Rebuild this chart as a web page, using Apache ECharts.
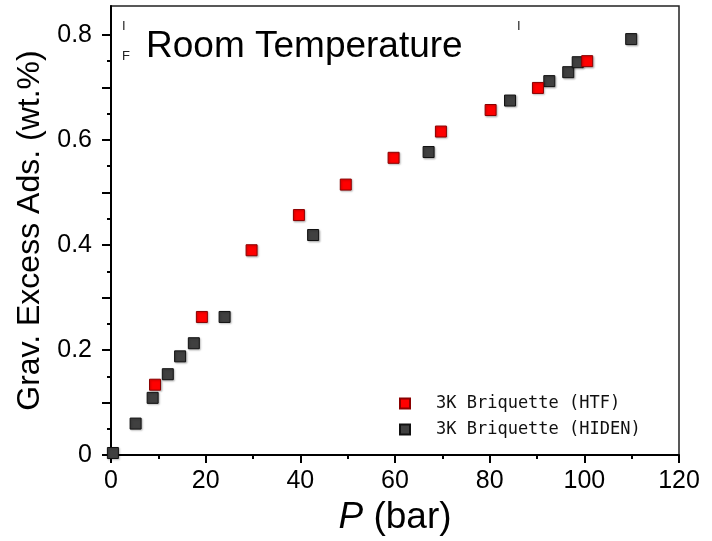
<!DOCTYPE html>
<html>
<head>
<meta charset="utf-8">
<script src="https://cdn.jsdelivr.net/npm/echarts@6/dist/echarts.min.js"></script>
<style>
  html, body { margin: 0; padding: 0; background: #fff; }
  #chart { width: 712px; height: 541px; }
</style>
</head>
<body>
<div id="chart"></div>
<script>
// 3K Briquette (HTF)
var htfP = [9.3, 19.2, 29.7, 39.7, 49.6, 59.7, 69.7, 80.2, 90.2, 100.6];
var htfAds = [0.134, 0.263, 0.390, 0.457, 0.515, 0.566, 0.616, 0.657, 0.699, 0.750];
// 3K Briquette (HIDEN)
var hidenP = [0.4, 5.2, 8.8, 12.0, 14.6, 17.5, 24.0, 42.7, 67.1, 84.3, 92.6, 96.6, 98.6, 109.9];
var hidenAds = [0.004, 0.060, 0.109, 0.154, 0.188, 0.213, 0.263, 0.419, 0.577, 0.675, 0.712, 0.729, 0.748, 0.792];

var seriesNames = ['3K Briquette (HTF)', '3K Briquette (HIDEN)'];
var yLabelValues = [0, 0.2, 0.4, 0.6, 0.8];
var yMajorTicks = [0, 0.1, 0.2, 0.3, 0.4, 0.5, 0.6, 0.7, 0.8];
var yMinorTicks = [0.05, 0.15, 0.25, 0.35, 0.45, 0.55, 0.65, 0.75];

function pairs(xs, ys) {
  return xs.map(function (x, i) { return [x, ys[i]]; });
}

var font = "'Liberation Sans', Arial, sans-serif";
var chart = echarts.init(document.getElementById('chart'));

chart.setOption({
  animation: false,
  title: {
    text: 'Room Temperature',
    left: 141,
    top: 23,
    textStyle: { fontFamily: font, fontSize: 37, fontWeight: 'normal', color: '#000' }
  },
  legend: {
    orient: 'vertical',
    left: 394,
    top: 390,
    itemWidth: 10,
    itemHeight: 10,
    itemGap: 9,
    icon: 'rect',
    data: seriesNames,
    textStyle: {
      fontFamily: "'DejaVu Sans Mono', monospace",
      fontSize: 17,
      color: '#111',
      padding: [0, 0, 0, 21]
    }
  },
  grid: {
    left: 111,
    right: 33,
    top: 6,
    bottom: 85,
    show: true,
    borderColor: '#222',
    borderWidth: 1.5
  },
  xAxis: {
    type: 'value',
    min: 0,
    max: 120,
    interval: 20,
    name: '{i|P} (bar)',
    nameLocation: 'middle',
    nameGap: 42,
    nameTextStyle: {
      fontFamily: font,
      fontSize: 37,
      color: '#000',
      rich: { i: { fontFamily: font, fontSize: 37, fontStyle: 'italic', color: '#000' } }
    },
    axisLine: { lineStyle: { color: '#000', width: 2 } },
    axisTick: { length: 8, lineStyle: { color: '#000', width: 2 } },
    minorTick: { show: true, splitNumber: 2, length: 4, lineStyle: { color: '#000', width: 2 } },
    axisLabel: { fontFamily: font, fontSize: 25, color: '#000', margin: 14 },
    splitLine: { show: false }
  },
  yAxis: [{
    type: 'value',
    position: 'left',
    min: 0,
    max: 0.855,
    name: 'Grav. Excess Ads. (wt.%)',
    nameLocation: 'middle',
    nameGap: 63,
    nameTextStyle: { fontFamily: font, fontSize: 32, color: '#000' },
    axisLine: { lineStyle: { color: '#000', width: 2 } },
    axisTick: { customValues: yMajorTicks, length: 9, lineStyle: { color: '#000', width: 2 } },
    axisLabel: { customValues: yLabelValues, fontFamily: font, fontSize: 25, color: '#000', margin: 19 },
    splitLine: { show: false }
  }, {
    type: 'value',
    position: 'left',
    min: 0,
    max: 0.855,
    axisLine: { show: false },
    axisTick: { customValues: yMinorTicks, length: 4, lineStyle: { color: '#000', width: 2 } },
    axisLabel: { show: false },
    splitLine: { show: false }
  }],
  graphic: [
    { type: 'text', left: 122, top: 20, style: { text: 'I', fontFamily: font, fontSize: 13, fill: '#222' } },
    { type: 'text', left: 122, top: 50, style: { text: 'F', fontFamily: font, fontSize: 13, fill: '#222' } },
    { type: 'text', left: 517, top: 20, style: { text: 'I', fontFamily: font, fontSize: 13, fill: '#222' } }
  ],
  series: [{
    name: seriesNames[0],
    type: 'scatter',
    symbol: 'rect',
    symbolSize: 11,
    z: 3,
    data: pairs(htfP, htfAds),
    itemStyle: {
      color: '#ff0000',
      borderColor: '#8a0000',
      borderWidth: 1,
      opacity: 1,
      shadowColor: 'rgba(0,0,0,0.25)',
      shadowBlur: 2,
      shadowOffsetX: 1,
      shadowOffsetY: 1
    }
  }, {
    name: seriesNames[1],
    type: 'scatter',
    symbol: 'rect',
    symbolSize: 11,
    z: 2,
    data: pairs(hidenP, hidenAds),
    itemStyle: {
      color: '#404040',
      borderColor: '#111',
      borderWidth: 1,
      opacity: 1,
      shadowColor: 'rgba(0,0,0,0.25)',
      shadowBlur: 2,
      shadowOffsetX: 1,
      shadowOffsetY: 1
    }
  }]
});
</script>
</body>
</html>
